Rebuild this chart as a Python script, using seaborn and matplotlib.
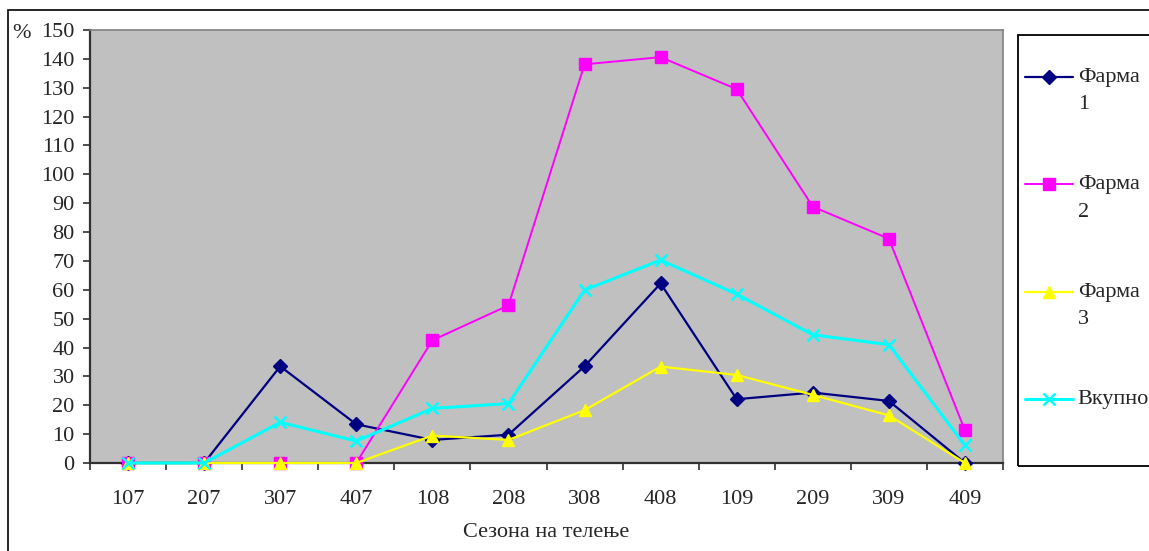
import numpy as np
import matplotlib
matplotlib.use("Agg")
import matplotlib.pyplot as plt
from matplotlib.patches import Rectangle
import seaborn as sns

# Calving seasons (season + year code) and the percentage per farm
seasons = ["107", "207", "307", "407", "108", "208", "308", "408", "109", "209", "309", "409"]
farma1 = [0, 0, 33.5, 13.4, 8.0, 9.8, 33.5, 62.2, 22.1, 24.4, 21.5, 0]
farma2 = [0, 0, 0, 0, 42.5, 54.6, 138.1, 140.6, 129.5, 88.8, 77.7, 11.3]
farma3 = [0, 0, 0, 0, 9.5, 8.0, 18.3, 33.4, 30.5, 23.6, 16.5, 0]
vkupno = [0, 0, 14.1, 7.6, 18.9, 20.6, 59.9, 70.3, 58.5, 44.4, 41.0, 6.1]

labels = ["Фарма\n1", "Фарма\n2", "Фарма\n3", "Вкупно"]
y_ticks = list(range(0, 151, 10))

sns.set_style("ticks")
plt.rcParams["font.family"] = ["Liberation Serif", "DejaVu Serif"]
FS = 16

W, H = 1149, 551
fig = plt.figure(figsize=(W / 100, H / 100), dpi=100)
fig.patch.set_facecolor("white")

x0, x1, y0, y1 = 90, 1003, 30, 463
ax = fig.add_axes([x0 / W, 1 - y1 / H, (x1 - x0) / W, (y1 - y0) / H])
ax.set_facecolor("#C0C0C0")

styles = [
    dict(color="#000080", marker="D", markersize=7, linewidth=1.6, markeredgewidth=1),
    dict(color="#FF00FF", marker="s", markersize=8, linewidth=1.4, markeredgewidth=1),
    dict(color="#FFFF00", marker="^", markersize=9, linewidth=1.6, markeredgewidth=1),
    dict(color="#00FFFF", marker="x", markersize=9, linewidth=2.2, markeredgewidth=1.8),
]
for lab, vals, st in zip(labels, [farma1, farma2, farma3, vkupno], styles):
    sns.lineplot(x=seasons, y=vals, ax=ax, sort=False, label=lab,
                 markeredgecolor=st["color"], clip_on=False, zorder=3, **st)

ax.set_xlim(-0.5, len(seasons) - 0.5)
ax.set_ylim(0, 150)
ax.set_yticks(y_ticks)
ax.set_yticklabels([str(v) for v in y_ticks], fontsize=FS)
ax.set_xticks(range(len(seasons)))
ax.set_xticklabels(seasons, fontsize=FS)
ax.set_xticks(np.arange(-0.5, len(seasons), 1), minor=True)
ax.tick_params(axis="x", which="major", length=0, pad=19.5)
ax.tick_params(axis="x", which="minor", length=5, width=1.2, color="#303030", direction="out")
ax.tick_params(axis="y", which="major", length=5, width=1.2, color="#303030", pad=6, direction="out")
ax.set_xlabel("Сезона на телење", fontsize=FS, labelpad=10)
ax.set_ylabel("")

for side in ["left", "bottom"]:
    ax.spines[side].set_color("#303030")
    ax.spines[side].set_linewidth(1.6)
for side in ["top", "right"]:
    ax.spines[side].set_color("#808080")
    ax.spines[side].set_linewidth(1.2)

fig.text(12 / W, 1 - 31 / H, "%", fontsize=FS, ha="left", va="center_baseline")

# Legend entries, handles aligned with the first line of each label
handles, labs = ax.get_legend_handles_labels()
leg = ax.legend(handles, labs, loc="upper left",
                bbox_to_anchor=(1025 / W, 1 - 68 / H), bbox_transform=fig.transFigure,
                frameon=False, fontsize=FS, borderpad=0, borderaxespad=0,
                handlelength=2.15, handletextpad=0.22, handleheight=1.1,
                labelspacing=2.74)
for t in leg.get_texts():
    t.set_linespacing(1.6)
for col in leg._legend_handle_box.get_children():
    for row in col.get_children():
        row.align = "top"

# Legend frame and the outer chart border
fig.patches.append(Rectangle((1018 / W, 1 - 466 / H), 0.3, (466 - 34.7) / H,
                             transform=fig.transFigure, fill=False,
                             edgecolor="black", linewidth=1.3, clip_on=False))
fig.patches.append(Rectangle((8 / W, -0.1), 1.2, 1.1 - 10 / H,
                             transform=fig.transFigure, fill=False,
                             edgecolor="black", linewidth=1.2, clip_on=False))

fig.savefig("out.png", dpi=100)
